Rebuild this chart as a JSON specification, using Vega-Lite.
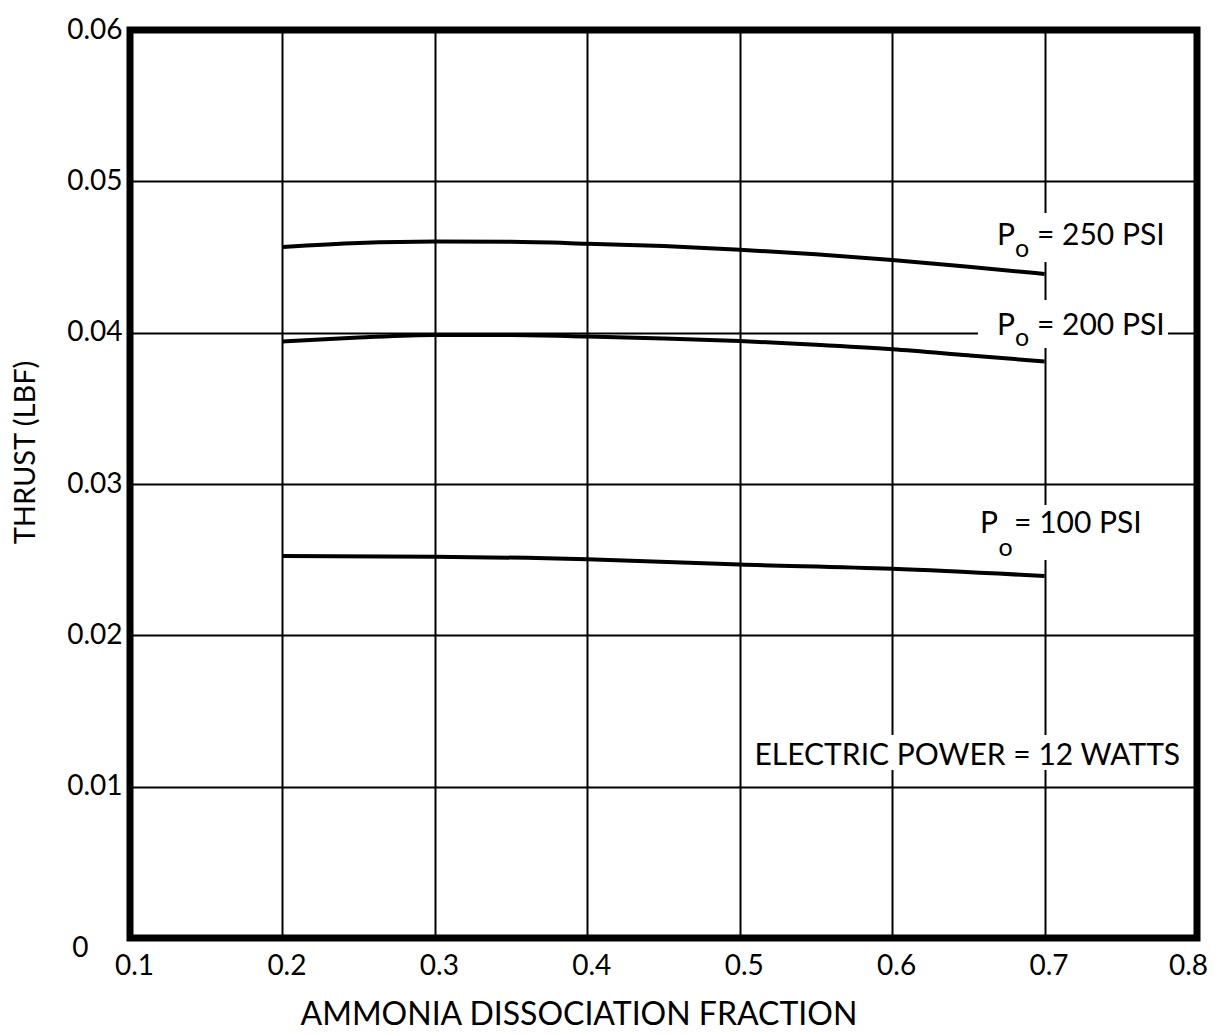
{
  "$schema": "https://vega.github.io/schema/vega-lite/v6.json",
  "width": 1067,
  "height": 908,
  "autosize": {"type": "none"},
  "padding": {"left": 130, "top": 30, "right": 18, "bottom": 96},
  "background": "white",
  "config": {
    "font": "Lato",
    "view": {"stroke": "black", "strokeWidth": 7},
    "axis": {
      "grid": true,
      "gridColor": "black",
      "gridWidth": 2,
      "gridOpacity": 1,
      "domain": false,
      "ticks": false,
      "labelFont": "Lato",
      "labelFontSize": 28,
      "labelColor": "black",
      "titleFont": "Lato",
      "titleFontWeight": "normal",
      "titleColor": "black"
    }
  },
  "datasets": {
    "curves": [
      {"x": 0.20, "thrust": 0.04566, "series": "250"},
      {"x": 0.25, "thrust": 0.04592, "series": "250"},
      {"x": 0.30, "thrust": 0.04602, "series": "250"},
      {"x": 0.35, "thrust": 0.04600, "series": "250"},
      {"x": 0.40, "thrust": 0.04588, "series": "250"},
      {"x": 0.45, "thrust": 0.04572, "series": "250"},
      {"x": 0.50, "thrust": 0.04548, "series": "250"},
      {"x": 0.55, "thrust": 0.04518, "series": "250"},
      {"x": 0.60, "thrust": 0.04480, "series": "250"},
      {"x": 0.65, "thrust": 0.04435, "series": "250"},
      {"x": 0.70, "thrust": 0.04388, "series": "250"},
      {"x": 0.20, "thrust": 0.03942, "series": "200"},
      {"x": 0.25, "thrust": 0.03968, "series": "200"},
      {"x": 0.30, "thrust": 0.03985, "series": "200"},
      {"x": 0.35, "thrust": 0.03985, "series": "200"},
      {"x": 0.40, "thrust": 0.03975, "series": "200"},
      {"x": 0.45, "thrust": 0.03962, "series": "200"},
      {"x": 0.50, "thrust": 0.03945, "series": "200"},
      {"x": 0.55, "thrust": 0.03920, "series": "200"},
      {"x": 0.60, "thrust": 0.03890, "series": "200"},
      {"x": 0.65, "thrust": 0.03850, "series": "200"},
      {"x": 0.70, "thrust": 0.03810, "series": "200"},
      {"x": 0.20, "thrust": 0.02524, "series": "100"},
      {"x": 0.30, "thrust": 0.02520, "series": "100"},
      {"x": 0.40, "thrust": 0.02502, "series": "100"},
      {"x": 0.50, "thrust": 0.02468, "series": "100"},
      {"x": 0.60, "thrust": 0.02440, "series": "100"},
      {"x": 0.70, "thrust": 0.02392, "series": "100"}
    ],
    "boxes": [
      {"x1": 0.6642, "x2": 0.7823, "y1": 0.04467, "y2": 0.04791},
      {"x1": 0.6563, "x2": 0.7810, "y1": 0.03899, "y2": 0.04216},
      {"x1": 0.6544, "x2": 0.7757, "y1": 0.02498, "y2": 0.02861},
      {"x1": 0.5100, "x2": 0.7920, "y1": 0.01110, "y2": 0.01341}
    ],
    "labels": [
      {"x": 0.6688, "y": 0.04579, "text": "P"},
      {"x": 0.6950, "y": 0.04579, "text": "= 250 PSI"},
      {"x": 0.6688, "y": 0.03985, "text": "P"},
      {"x": 0.6950, "y": 0.03985, "text": "= 200 PSI"},
      {"x": 0.6577, "y": 0.02676, "text": "P"},
      {"x": 0.6800, "y": 0.02676, "text": "= 100 PSI"}
    ],
    "subscripts": [
      {"x": 0.6852, "y": 0.04500, "text": "o"},
      {"x": 0.6852, "y": 0.03915, "text": "o"},
      {"x": 0.6745, "y": 0.02525, "text": "o"}
    ],
    "notes": [
      {"x": 0.7889, "y": 0.01143, "text": "ELECTRIC POWER = 12 WATTS"}
    ]
  },
  "layer": [
    {
      "data": {"name": "curves"},
      "mark": {"type": "line", "color": "black", "strokeWidth": 4, "interpolate": "monotone"},
      "encoding": {
        "x": {
          "field": "x", "type": "quantitative",
          "scale": {"domain": [0.1, 0.8], "nice": false, "zero": false},
          "axis": {
            "values": [0.1, 0.2, 0.3, 0.4, 0.5, 0.6, 0.7, 0.8],
            "format": ".1f",
            "labelPadding": 14,
            "labelFlush": false,
            "labelOffset": {"condition": {"test": "datum.value > 0.75", "value": -9}, "value": 4},
            "title": "AMMONIA  DISSOCIATION FRACTION",
            "titleFontSize": 32,
            "titleAnchor": "start",
            "titleX": 170,
            "titleY": 86,
            "titleBaseline": "alphabetic"
          }
        },
        "y": {
          "field": "thrust", "type": "quantitative",
          "scale": {"domain": [0, 0.06], "nice": false},
          "axis": {
            "values": [0, 0.01, 0.02, 0.03, 0.04, 0.05, 0.06],
            "labelExpr": "datum.value == 0 ? '0' : format(datum.value, '.2f')",
            "labelFlush": false,
            "labelPadding": {"condition": {"test": "datum.value == 0", "value": 42}, "value": 8},
            "labelOffset": {"condition": {"test": "datum.value == 0", "value": 10}, "value": 0},
            "title": "THRUST (LBF)",
            "titleFontSize": 29,
            "titleX": -96,
            "titleY": 422,
            "titleAnchor": "middle",
            "titleBaseline": "alphabetic"
          }
        },
        "detail": {"field": "series"}
      }
    },
    {
      "data": {"name": "boxes"},
      "mark": {"type": "rect", "fill": "white", "stroke": null},
      "encoding": {
        "x": {"field": "x1", "type": "quantitative"},
        "x2": {"field": "x2"},
        "y": {"field": "y1", "type": "quantitative"},
        "y2": {"field": "y2"}
      }
    },
    {
      "data": {"name": "labels"},
      "mark": {"type": "text", "fontSize": 30, "color": "black", "baseline": "alphabetic", "align": "left", "font": "Lato"},
      "encoding": {
        "x": {"field": "x", "type": "quantitative"},
        "y": {"field": "y", "type": "quantitative"},
        "text": {"field": "text"}
      }
    },
    {
      "data": {"name": "subscripts"},
      "mark": {"type": "text", "fontSize": 25, "color": "black", "baseline": "alphabetic", "align": "center", "font": "Lato"},
      "encoding": {
        "x": {"field": "x", "type": "quantitative"},
        "y": {"field": "y", "type": "quantitative"},
        "text": {"field": "text"}
      }
    },
    {
      "data": {"name": "notes"},
      "mark": {"type": "text", "fontSize": 30, "color": "black", "baseline": "alphabetic", "align": "right", "font": "Lato"},
      "encoding": {
        "x": {"field": "x", "type": "quantitative"},
        "y": {"field": "y", "type": "quantitative"},
        "text": {"field": "text"}
      }
    }
  ]
}
